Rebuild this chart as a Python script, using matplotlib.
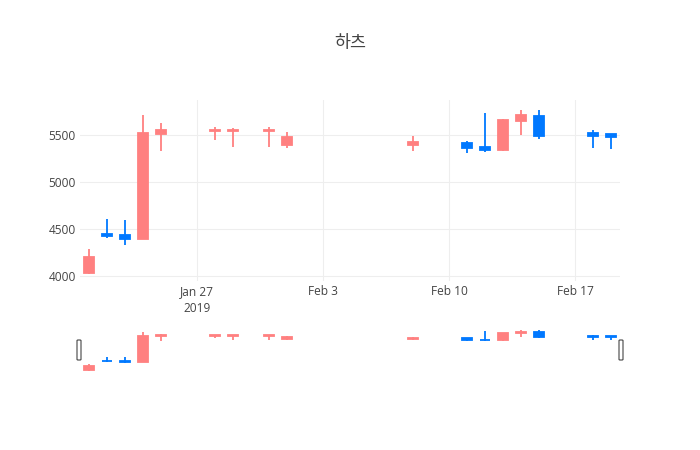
import matplotlib
matplotlib.use('Agg')
import matplotlib.pyplot as plt
import matplotlib.dates as mdates
from matplotlib.patches import FancyBboxPatch
import numpy as np
import pandas as pd

# data
dates = ['2019-01-21', '2019-01-22', '2019-01-23', '2019-01-24', '2019-01-25',
         '2019-01-28', '2019-01-29', '2019-01-31', '2019-02-01', '2019-02-08',
         '2019-02-11', '2019-02-12', '2019-02-13', '2019-02-14', '2019-02-15',
         '2019-02-18', '2019-02-19']
open_ = [4025, 4450, 4440, 4390, 5510, 5540, 5540, 5540, 5390, 5400,
         5420, 5375, 5340, 5650, 5700, 5520, 5510]
high = [4285, 4610, 4595, 5710, 5630, 5590, 5580, 5590, 5530, 5490,
        5440, 5740, 5670, 5770, 5770, 5550, 5510]
low = [4020, 4400, 4330, 4390, 5330, 5450, 5370, 5370, 5360, 5335,
       5305, 5320, 5330, 5500, 5460, 5360, 5350]
close = [4200, 4420, 4390, 5520, 5550, 5560, 5560, 5560, 5480, 5430,
         5360, 5340, 5660, 5710, 5490, 5490, 5480]

ytick_vals = [4000, 4500, 5000, 5500]
xtick_dates = ['2019-01-27', '2019-02-03', '2019-02-10', '2019-02-17']
xtick_labels = ['Jan 27\n2019', 'Feb 3', 'Feb 10', 'Feb 17']
title = '하츠'

UP = '#ff8080'
DOWN = '#0078ff'
TXT = '#444444'
GRID = '#eeeeee'

x = mdates.date2num(pd.to_datetime(dates))
o = np.array(open_, dtype=float)
h = np.array(high, dtype=float)
l = np.array(low, dtype=float)
c = np.array(close, dtype=float)
cols = [UP if cc >= oo else DOWN for oo, cc in zip(o, c)]

xmin = mdates.date2num(pd.Timestamp('2019-01-20 12:00'))
xmax = mdates.date2num(pd.Timestamp('2019-02-19 12:00'))

W, H = 700, 450
fig = plt.figure(figsize=(7, 4.5), dpi=100)


def draw_candles(ax, lw):
    ax.vlines(x, l, h, colors=cols, linewidth=lw, zorder=2)
    bottoms = np.minimum(o, c)
    heights = np.abs(c - o)
    ax.bar(x, heights, width=0.56, bottom=bottoms, color=cols, edgecolor=cols,
           linewidth=lw, zorder=3)


# main chart: plot area 80..620 x, 100..281 y (pixels)
ax = fig.add_axes([80 / W, 1 - 281 / H, 540 / W, 181 / H])
draw_candles(ax, 1.3)
ax.set_xlim(xmin, xmax)
ax.set_ylim(3945, 5875)
ax.set_yticks(ytick_vals)
ax.set_yticklabels([str(v) for v in ytick_vals])
ax.set_xticks(mdates.date2num(pd.to_datetime(xtick_dates)))
ax.set_xticklabels(xtick_labels, linespacing=1.35)
ax.grid(True, color=GRID, linewidth=0.75, zorder=0)
ax.set_axisbelow(True)
for s in ax.spines.values():
    s.set_visible(False)
ax.tick_params(axis='both', length=0, labelsize=8.6, labelcolor=TXT)
ax.tick_params(axis='x', pad=3)
ax.tick_params(axis='y', pad=3)
for lab in ax.get_xticklabels() + ax.get_yticklabels():
    lab.set_family('Open Sans')

# range slider
axs = fig.add_axes([80 / W, 1 - 371 / H, 540 / W, 41 / H])
draw_candles(axs, 1.3)
axs.set_xlim(xmin, xmax)
axs.set_ylim(min(low) - 20, max(high) + 20)
axs.set_xticks([])
axs.set_yticks([])
for s in axs.spines.values():
    s.set_visible(False)

for px in (79, 621):
    g = FancyBboxPatch(((px - 2) / W, 1 - 360 / H), 4 / W, 20 / H,
                       boxstyle='round,pad=0,rounding_size=0.0015',
                       transform=fig.transFigure, facecolor='white',
                       edgecolor='#444444', linewidth=0.8, zorder=5)
    fig.patches.append(g)

fig.text(350 / W, 1 - 43 / H, title, ha='center', va='center',
         fontsize=12.5, color=TXT, family=['Noto Sans CJK KR', 'DejaVu Sans'])

fig.savefig('out.png', dpi=100)
